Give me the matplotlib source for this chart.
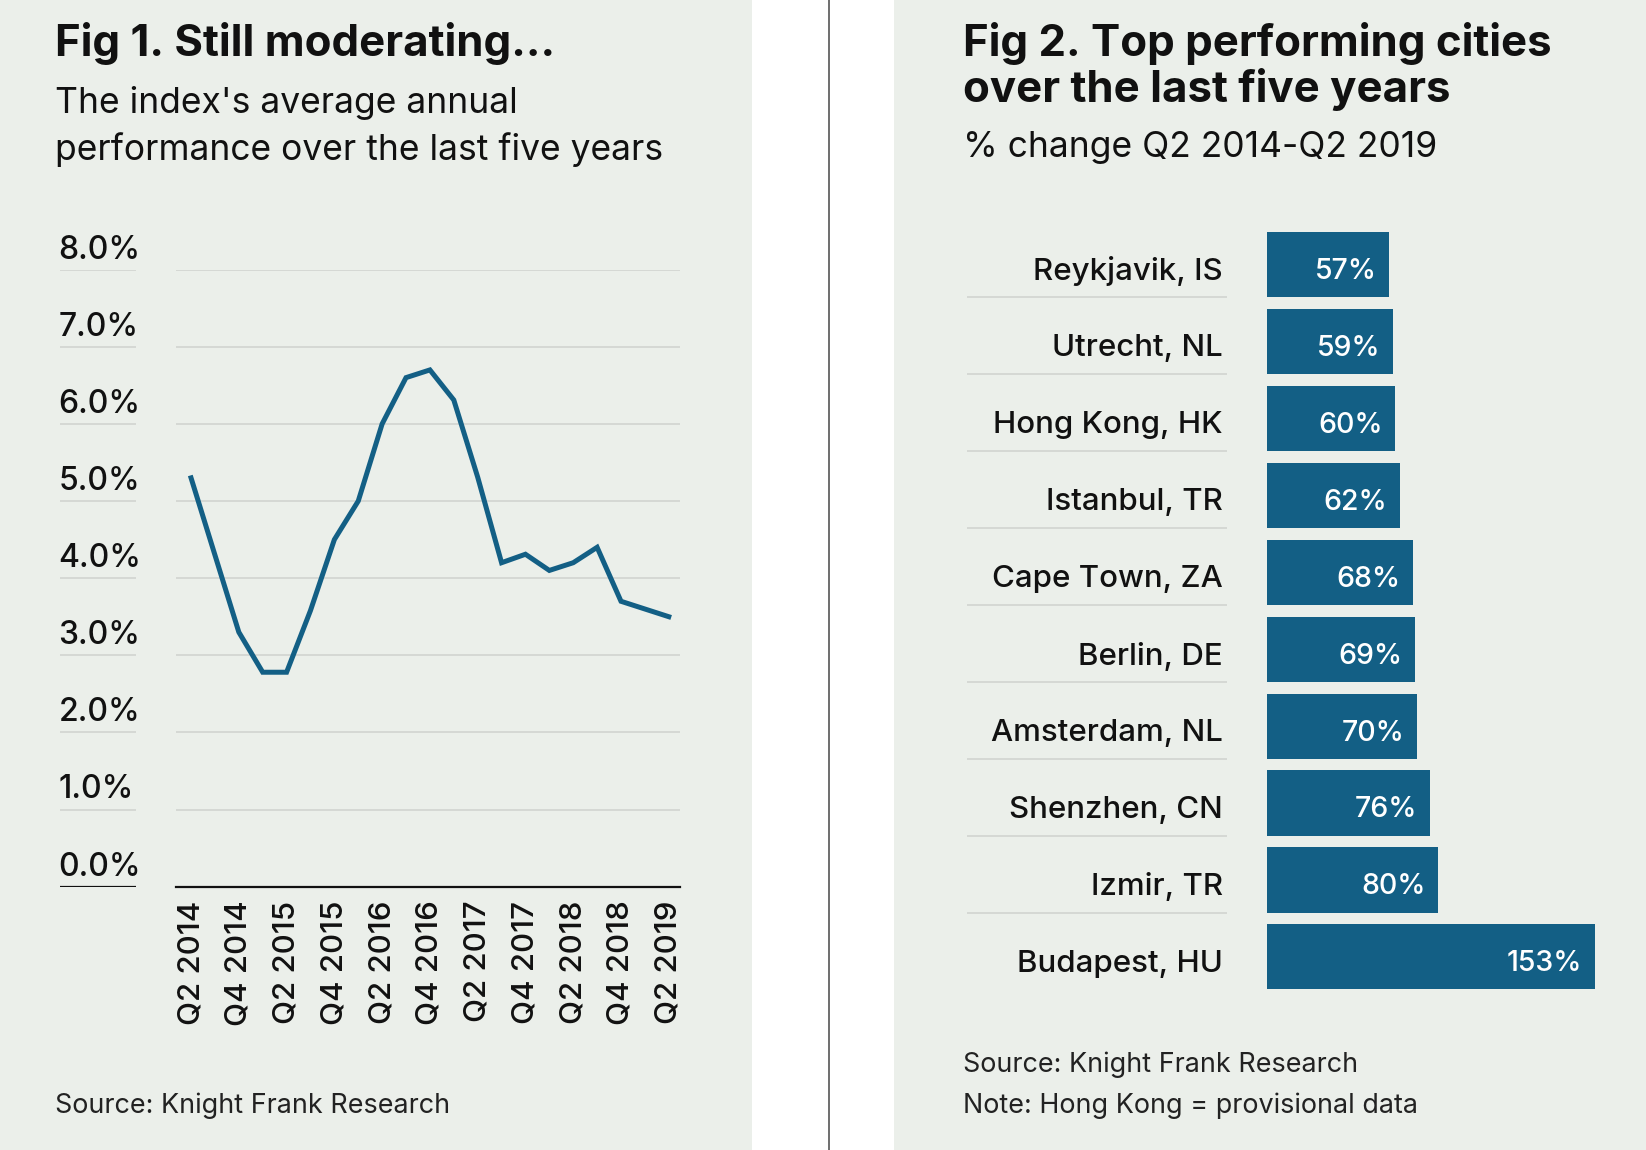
import matplotlib
matplotlib.use("Agg")
import matplotlib.pyplot as plt
from matplotlib.patches import Rectangle

# data
quarters = ['Q2 2014', 'Q3 2014', 'Q4 2014', 'Q1 2015', 'Q2 2015', 'Q3 2015', 'Q4 2015',
            'Q1 2016', 'Q2 2016', 'Q3 2016', 'Q4 2016', 'Q1 2017', 'Q2 2017', 'Q3 2017',
            'Q4 2017', 'Q1 2018', 'Q2 2018', 'Q3 2018', 'Q4 2018', 'Q1 2019', 'Q2 2019']
avg_growth = [5.3, 4.3, 3.3, 2.78, 2.78, 3.58, 4.5, 5.0, 6.0, 6.6, 6.7, 6.31, 5.31, 4.2,
              4.31, 4.1, 4.2, 4.4, 3.7, 3.6, 3.5]
y_ticks = [0, 1, 2, 3, 4, 5, 6, 7, 8]

cities = ['Reykjavik, IS', 'Utrecht, NL', 'Hong Kong, HK', 'Istanbul, TR', 'Cape Town, ZA',
          'Berlin, DE', 'Amsterdam, NL', 'Shenzhen, CN', 'Izmir, TR', 'Budapest, HU']
change = [57, 59, 60, 62, 68, 69, 70, 76, 80, 153]

BG = '#EBEFEA'
BLUE = '#135F85'
GRID = '#D3D6D2'
INK = '#111111'

plt.rcParams['font.family'] = ['Inter', 'DejaVu Sans']

fig = plt.figure(figsize=(16.46, 11.5), dpi=100)
fig.patch.set_facecolor('white')

# layout helpers, coordinates measured on a 1568 x 1096 view
def fx(x):
    return x / 1568.0

def fy(y):
    return 1 - y / 1096.0

def box(x0, y0, x1, y1):
    return [fx(x0), fy(y1), fx(x1) - fx(x0), fy(y0) - fy(y1)]

fig.patches.append(Rectangle((0, 0), fx(716), 1, transform=fig.transFigure,
                             facecolor=BG, edgecolor='none', zorder=-10))
fig.patches.append(Rectangle((fx(852), 0), 1 - fx(852), 1, transform=fig.transFigure,
                             facecolor=BG, edgecolor='none', zorder=-10))
fig.add_artist(plt.Line2D([fx(790), fx(790)], [0, 1], color='#555555', lw=1.2, zorder=-5))

# ---- Fig 1 ----
fig.text(fx(52), fy(41), 'Fig 1. Still moderating...', fontsize=31.5, fontweight='bold',
         color=INK, va='center')
fig.text(fx(52), fy(98), "The index's average annual", fontsize=25.5, color=INK, va='center')
fig.text(fx(52), fy(143), 'performance over the last five years', fontsize=25.5, color=INK,
         va='center')

ax = fig.add_axes(box(168, 257, 648, 845))
ax.set_facecolor('none')
x = list(range(len(quarters)))
ax.plot(x, avg_growth, color=BLUE, lw=3.6, solid_joinstyle='miter', zorder=3)
ax.set_xlim(-0.615, 20.48)
ax.set_ylim(0, 8)
for v in y_ticks[1:]:
    ax.axhline(v, color=GRID, lw=1.3, zorder=1)
for s in ['top', 'right', 'left']:
    ax.spines[s].set_visible(False)
ax.spines['bottom'].set_color(INK)
ax.spines['bottom'].set_linewidth(1.6)
ax.set_yticks([])
ax.set_xticks(x[::2])
ax.set_xticklabels(quarters[::2], rotation=90, fontsize=22.5, color=INK, fontweight='medium')
ax.tick_params(axis='x', length=0, pad=10)

lab = fig.add_axes(box(57, 257, 130, 845))
lab.set_facecolor('none')
lab.set_xlim(0, 1)
lab.set_ylim(0, 8)
lab.axis('off')
for v in y_ticks:
    lab.axhline(v, color=INK if v == 0 else GRID, lw=1.6 if v == 0 else 1.3)
    lab.annotate('%.1f%%' % v, (0, v), xytext=(-1, 8), textcoords='offset points',
                 ha='left', va='baseline', fontsize=23, color=INK, fontweight='medium')

fig.text(fx(52), fy(1054), 'Source: Knight Frank Research', fontsize=19.4, color='#222222',
         va='center')

# ---- Fig 2 ----
fig.text(fx(917), fy(41), 'Fig 2. Top performing cities', fontsize=31.5, fontweight='bold',
         color=INK, va='center')
fig.text(fx(917), fy(85), 'over the last five years', fontsize=31.5, fontweight='bold',
         color=INK, va='center')
fig.text(fx(917), fy(141), '% change Q2 2014-Q2 2019', fontsize=25.5, color=INK, va='center')

bx = fig.add_axes(box(1207, 221, 1519, 943))
bx.set_facecolor('none')
pos = list(range(len(cities)))
bx.barh(pos, change, height=0.846, color=BLUE, edgecolor='none')
bx.set_xlim(0, 153)
bx.set_ylim(9.423, -0.423)
bx.axis('off')
for p, v in zip(pos, change):
    bx.annotate('%d%%' % v, (v, p), xytext=(-9, -5), textcoords='offset points',
                ha='right', va='center', fontsize=20.5, color='white', fontweight='medium')

cx = fig.add_axes(box(921, 221, 1169, 943))
cx.set_facecolor('none')
cx.set_xlim(0, 1)
cx.set_ylim(9.423, -0.423)
cx.axis('off')
for p, name in zip(pos, cities):
    cx.annotate(name, (1, p), xytext=(-3, -5), textcoords='offset points',
                ha='right', va='center', fontsize=22.5, color=INK, fontweight='medium')
    if p < len(cities) - 1:
        cx.axhline(p + 0.423, color=GRID, lw=1.3)

fig.text(fx(917), fy(1015), 'Source: Knight Frank Research', fontsize=19.4, color='#222222',
         va='center')
fig.text(fx(917), fy(1054), 'Note: Hong Kong = provisional data', fontsize=19.4,
         color='#222222', va='center')

fig.savefig('out.png', dpi=100, facecolor=fig.get_facecolor())
